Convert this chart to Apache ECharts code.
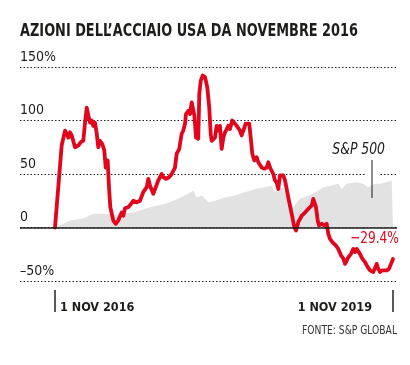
<!DOCTYPE html>
<html><head><meta charset="utf-8">
<script src="https://cdn.jsdelivr.net/npm/echarts@6/dist/echarts.min.js"></script>
<style>html,body{margin:0;padding:0;background:#fff}#c{width:410px;height:365px}</style>
</head><body><div id="c"></div>
<script>
// months since 1 Nov 2016
const steelMonths = [0,0.35,0.71,1.07,1.25,1.42,1.60,1.78,2.13,2.31,2.48,2.77,3.01,3.20,3.38,3.55,3.73,3.91,4.08,4.26,4.44,4.61,4.79,5.04,5.25,5.40,5.61,5.75,5.89,6.21,6.47,6.74,7.10,7.27,7.46,7.81,8.09,8.34,8.70,9.05,9.40,9.77,9.94,10.12,10.47,10.65,11.00,11.36,11.53,11.82,12.17,12.43,12.78,12.96,13.24,13.31,13.49,13.66,13.85,13.95,14.20,14.38,14.56,14.73,14.84,15.02,15.26,15.37,15.52,15.73,15.98,16.22,16.43,16.58,16.69,17.04,17.22,17.39,17.57,17.75,17.93,18.11,18.29,18.46,18.64,18.88,19.17,19.46,19.70,19.88,20.06,20.31,20.52,20.69,20.88,21.01,21.23,21.48,21.65,22.01,22.29,22.55,22.72,22.90,23.25,23.43,23.61,23.78,23.96,24.32,24.50,24.85,25.21,25.49,25.67,25.91,26.28,26.63,26.98,27.34,27.51,27.62,27.80,27.98,28.12,28.41,28.68,28.94,29.11,29.29,29.54,29.75,29.90,30.17,30.46,30.71,30.89,31.07,31.24,31.53,31.77,31.95,32.13,32.30,32.48,32.73,33.02,33.31,33.55,33.90,34.08,34.26,34.43,34.62,34.86,35.07,35.33,35.57,35.79,36];
const steelValues = [0,37.6,76.6,90.6,89,84,89,86,75,74,76.6,80,81,98,112,104.7,98,100,95,98,88,75,81,78,72,56,62.6,37.7,19,6.5,3.4,6.5,14,11,18,19,22,25,23.6,25,33,37.7,45.5,39,31.5,33,44,50,47,45.5,47,50,56,69,73.5,78,87.6,90.6,97,106,109,106,117,118.7,104.7,84,83,125,137,142,140.5,131,112,87.6,81,84,95,90.6,95,73.5,84,89,92,95,92,100,97,93.7,90.6,86,90.6,97,98,97,81,69,62.6,65.7,61,56,55,56,61,56,50,44,42,36,48.6,48.6,44,28,12.8,0.3,-2.8,5,11,14,17.5,20.5,26.8,28,19,6.5,1.9,3.5,1.9,3.5,-5.9,-10.6,-13.7,-12,-16.8,-20,-26,-29,-34,-31,-27.8,-24.6,-20,-23,-20,-20,-24.6,-29,-32.4,-37,-40,-41.7,-40,-34,-38.6,-41.7,-40,-41.7,-40,-38.6,-34,-29.4];
const spMonths = [0,0.18,0.75,1.60,2.98,4.08,5.14,6.39,8.34,10.12,11.72,13.13,14.20,14.73,15.09,15.62,15.98,16.33,17.04,18.11,19.17,20.24,21.30,22.37,23.08,23.43,23.78,24.28,24.71,25.38,26.09,27.51,28.58,29.29,30.17,30.54,31.07,32.13,32.83,33.37,34.08,34.62,35.33,35.86,36];
const spValues = [0,0.5,3,6.5,8.4,12.8,12.8,12,14,19,22,26.8,31.5,34.6,28,30,26.8,23.6,25,28,30,33,36,37.7,39,33,36,37,30,19,26.8,31.5,37.7,39,40.8,36,40.8,42.4,40.8,37.7,40.8,40.8,42.4,44,44];
const yTicks = [-50,0,50,100,150];
const yTickLabels = ['\u201350%','0','50','100','150%'];
const xTickMonths = [0,36];
const xTickLabels = ['1 NOV 2016','1 NOV 2019'];
const titleText = "AZIONI DELL\u2019ACCIAIO USA DA NOVEMBRE 2016";
const sourceText = 'FONTE: S&P GLOBAL';
const spName = 'S&P 500';

const FONT = "'DejaVu Sans Condensed','DejaVu Sans',sans-serif";
const steelData = steelMonths.map((m,i)=>[m,steelValues[i]]);
const spData = spMonths.map((m,i)=>[m,spValues[i]]);
const lastVal = steelValues[steelValues.length-1];

function textWidth(t, font){
  const c = document.createElement('canvas').getContext('2d');
  c.font = font; return c.measureText(t).width;
}
const titleScale = 338 / textWidth(titleText, "bold 18px 'DejaVu Sans Condensed'");

const chart = echarts.init(document.getElementById('c'));
const xBase = {
  type:'value', min:-3.728, max:36.426, position:'bottom', offset:9,
  axisLine:{show:false, onZero:false}, splitLine:{show:false},
  axisTick:{show:true, length:22, lineStyle:{color:'#222', width:1.5}}
};
const xLabelStyle = {fontFamily:FONT, fontWeight:'bold', fontSize:12.5, color:'#1d1d1b', margin:11};
chart.setOption({
  animation:false,
  grid:{left:20, right:13, top:67, bottom:84},
  xAxis:[
    Object.assign({}, xBase, {
      axisTick:Object.assign({}, xBase.axisTick, {customValues:[xTickMonths[0]]}),
      axisLabel:Object.assign({customValues:[xTickMonths[0]], formatter:()=>xTickLabels[0], align:'left', padding:[0,0,0,5]}, xLabelStyle)
    }),
    Object.assign({}, xBase, {
      axisTick:Object.assign({}, xBase.axisTick, {customValues:[xTickMonths[1]]}),
      axisLabel:Object.assign({customValues:[xTickMonths[1]], formatter:()=>xTickLabels[1], align:'right', padding:[0,21,0,0]}, xLabelStyle)
    })
  ],
  yAxis:{
    type:'value', min:yTicks[0], max:yTicks[yTicks.length-1], interval:50,
    axisLine:{show:false}, axisTick:{show:false},
    axisLabel:{inside:true, margin:0, verticalAlign:'bottom', padding:[0,0,3,0], align:'left',
      formatter:v=>yTickLabels[yTicks.indexOf(v)], fontFamily:FONT, fontSize:14, color:'#1d1d1b'},
    splitLine:{show:true, lineStyle:{color:'#222', width:1, type:[1.5,2]}}
  },
  series:[
    {type:'line', name:spName, data:spData, showSymbol:false, silent:true,
      lineStyle:{width:0}, areaStyle:{color:'#e2e2e2', opacity:1}, z:1,
      markLine:{silent:true, symbol:'none', label:{show:false}, data:[{yAxis:0}], lineStyle:{color:'#1d1d1b', width:1.5, type:'solid'}}
    },
    {type:'line', name:'Acciaio', data:steelData, showSymbol:false, silent:true,
      lineStyle:{width:3.8, color:'#e1061b', join:'round', cap:'round'}, z:3}
  ],
  graphic:[
    {type:'text', x:20, y:31, scaleX:titleScale, style:{text:titleText, fontFamily:FONT, fontWeight:'bold', fontSize:18, fill:'#1d1d1b', align:'left', verticalAlign:'middle'}, z:6},
    {type:'rect', shape:{x:366, y:171, width:14, height:6}, style:{fill:'#fff'}, z:5},
    {type:'line', shape:{x1:372, y1:160, x2:372, y2:198}, style:{stroke:'#1d1d1b', lineWidth:1}, z:6},
    {type:'text', x:385, y:150, scaleX:0.92, style:{text:spName, fontFamily:FONT, fontStyle:'italic', fontSize:15, fill:'#1d1d1b', align:'right', verticalAlign:'middle'}, z:6},
    {type:'text', x:399, y:239, scaleX:0.85, style:{text:'\u2212'+Math.abs(lastVal).toFixed(1)+'%', fontFamily:FONT, fontSize:16, fill:'#e1061b', align:'right', verticalAlign:'middle'}, z:6},
    {type:'text', x:397, y:331, scaleX:0.85, style:{text:sourceText, fontFamily:FONT, fontSize:12, fill:'#333', align:'right', verticalAlign:'middle'}, z:6}
  ]
});
</script></body></html>
